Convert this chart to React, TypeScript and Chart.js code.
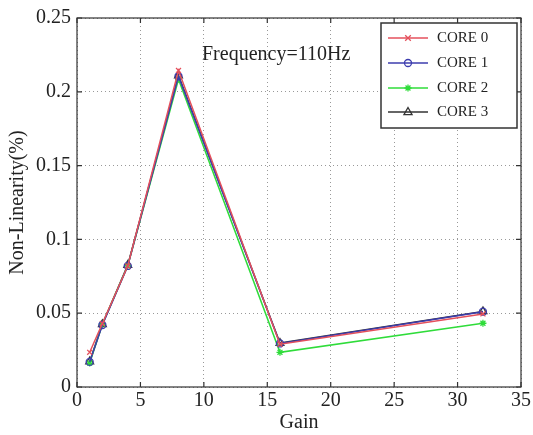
import React, { useEffect, useRef } from "react";
import { Chart, registerables } from "chart.js";

Chart.register(...registerables);

const gains = [1, 2, 4, 8, 16, 32];
const core0 = [0.0235, 0.043, 0.082, 0.2145, 0.029, 0.0495];
const core1 = [0.017, 0.042, 0.082, 0.2105, 0.0295, 0.051];
const core2 = [0.0162, 0.0425, 0.0822, 0.2085, 0.0235, 0.0432];
const core3 = [0.0172, 0.0425, 0.0826, 0.211, 0.0298, 0.0512];

const seriesNames = ["CORE 0", "CORE 1", "CORE 2", "CORE 3"];
const xTickLabels = ["0", "5", "10", "15", "20", "25", "30", "35"];
const yTickLabels = ["0", "0.05", "0.1", "0.15", "0.2", "0.25"];
const annotationText = "Frequency=110Hz";

const SERIF = "'Liberation Serif', 'Times New Roman', serif";
const TEXT = "#222";

const styles = [
  { color: "#e4505c", point: "crossRot", radius: 3.5, fill: "#e4505c" },
  { color: "#3c3cae", point: "circle", radius: 3.5, fill: "rgba(0,0,0,0)" },
  { color: "#2fdc3a", point: "star", radius: 3.5, fill: "#2fdc3a" },
  { color: "#333333", point: "triangle", radius: 4.5, fill: "rgba(0,0,0,0)" },
];

const frame = {
  id: "frame",
  afterDraw(chart: any) {
    const { ctx, chartArea: a, scales } = chart;
    ctx.save();
    // box
    ctx.strokeStyle = "#333";
    ctx.lineWidth = 1.2;
    ctx.strokeRect(a.left, a.top, a.right - a.left, a.bottom - a.top);
    // inward ticks on all four sides
    ctx.beginPath();
    const tl = 5;
    scales.x.ticks.forEach((t: any) => {
      const px = scales.x.getPixelForValue(t.value);
      ctx.moveTo(px, a.bottom);
      ctx.lineTo(px, a.bottom - tl);
      ctx.moveTo(px, a.top);
      ctx.lineTo(px, a.top + tl);
    });
    scales.y.ticks.forEach((t: any) => {
      const py = scales.y.getPixelForValue(t.value);
      ctx.moveTo(a.left, py);
      ctx.lineTo(a.left + tl, py);
      ctx.moveTo(a.right, py);
      ctx.lineTo(a.right - tl, py);
    });
    ctx.stroke();

    // annotation
    ctx.fillStyle = TEXT;
    ctx.font = `20px ${SERIF}`;
    ctx.textAlign = "left";
    ctx.textBaseline = "middle";
    ctx.fillText(annotationText, 202, 55);

    // legend box
    const lx = 381, ly = 23, lw = 136, lh = 105;
    ctx.fillStyle = "#fff";
    ctx.fillRect(lx, ly, lw, lh);
    ctx.strokeStyle = "#333";
    ctx.lineWidth = 1.5;
    ctx.strokeRect(lx, ly, lw, lh);
    const rows = [38, 63, 88, 112];
    chart.data.datasets.forEach((ds: any, i: number) => {
      const y = rows[i];
      const st = styles[i];
      ctx.strokeStyle = st.color;
      ctx.lineWidth = 1.3;
      ctx.beginPath();
      ctx.moveTo(388, y);
      ctx.lineTo(428, y);
      ctx.stroke();
      ctx.lineWidth = 1.3;
      ctx.fillStyle = st.fill;
      (Chart as any).helpers?.drawPoint;
      drawMarker(ctx, st, 408, y);
      ctx.fillStyle = TEXT;
      ctx.font = `15px ${SERIF}`;
      ctx.textAlign = "left";
      ctx.textBaseline = "middle";
      ctx.fillText(ds.label, 437, y);
    });
    ctx.restore();
  },
};

function drawMarker(ctx: CanvasRenderingContext2D, st: any, x: number, y: number) {
  const r = st.radius;
  ctx.beginPath();
  if (st.point === "circle") {
    ctx.arc(x, y, r, 0, Math.PI * 2);
    ctx.stroke();
  } else if (st.point === "crossRot") {
    const d = r * 0.8;
    ctx.moveTo(x - d, y - d);
    ctx.lineTo(x + d, y + d);
    ctx.moveTo(x + d, y - d);
    ctx.lineTo(x - d, y + d);
    ctx.stroke();
  } else if (st.point === "star") {
    ctx.moveTo(x - r, y);
    ctx.lineTo(x + r, y);
    ctx.moveTo(x, y - r);
    ctx.lineTo(x, y + r);
    const d = r * 0.7;
    ctx.moveTo(x - d, y - d);
    ctx.lineTo(x + d, y + d);
    ctx.moveTo(x + d, y - d);
    ctx.lineTo(x - d, y + d);
    ctx.stroke();
  } else if (st.point === "triangle") {
    ctx.moveTo(x, y - r);
    ctx.lineTo(x + r * 0.9, y + r * 0.6);
    ctx.lineTo(x - r * 0.9, y + r * 0.6);
    ctx.closePath();
    ctx.stroke();
  }
}

export default function App() {
  const ref = useRef<HTMLCanvasElement>(null);

  useEffect(() => {
    document.body.style.margin = "0";
    const series = [core0, core1, core2, core3];
    const chart = new Chart(ref.current!, {
      type: "line",
      data: {
        datasets: series.map((vals, i) => ({
          label: seriesNames[i],
          data: gains.map((g, j) => ({ x: g, y: vals[j] })),
          borderColor: styles[i].color,
          backgroundColor: styles[i].fill,
          pointStyle: styles[i].point as any,
          pointRadius: styles[i].radius,
          pointBorderColor: styles[i].color,
          pointBackgroundColor: styles[i].fill,
          pointBorderWidth: 1.3,
          borderWidth: 1.5,
          tension: 0,
          fill: false,
        })),
      },
      options: {
        responsive: false,
        animation: false,
        layout: { padding: { top: 17, right: 10, left: 0, bottom: 0 } },
        plugins: { legend: { display: false }, tooltip: { enabled: false } },
        scales: {
          x: {
            type: "linear",
            min: 0,
            max: 35,
            ticks: {
              stepSize: 5,
              color: TEXT,
              font: { family: SERIF, size: 20 },
              padding: 2,
              maxRotation: 0,
              callback: (_v: any, i: number) => xTickLabels[i],
            },
            grid: { color: "#999", lineWidth: 1, drawTicks: false },
            border: { display: false, dash: [1, 3] },
            title: {
              display: true,
              text: "Gain",
              color: TEXT,
              font: { family: SERIF, size: 20 },
              padding: { top: 0, bottom: 0 },
            },
            afterFit: (s: any) => {
              s.height = 48;
            },
          },
          y: {
            type: "linear",
            min: 0,
            max: 0.25,
            ticks: {
              stepSize: 0.05,
              color: TEXT,
              font: { family: SERIF, size: 20 },
              padding: 6,
              callback: (_v: any, i: number) => yTickLabels[i],
            },
            grid: { color: "#999", lineWidth: 1, drawTicks: false },
            border: { display: false, dash: [1, 3] },
            title: {
              display: true,
              text: "Non-Linearity(%)",
              color: TEXT,
              font: { family: SERIF, size: 20 },
              padding: { top: 6, bottom: 0 },
            },
            afterFit: (s: any) => {
              s.width = 77;
            },
          },
        },
      },
      plugins: [frame],
    });
    return () => chart.destroy();
  }, []);

  return (
    <div style={{ position: "absolute", left: 0, top: 0, width: 533, height: 435, background: "#fff" }}>
      <canvas ref={ref} width={533} height={435} style={{ display: "block" }} />
    </div>
  );
}
